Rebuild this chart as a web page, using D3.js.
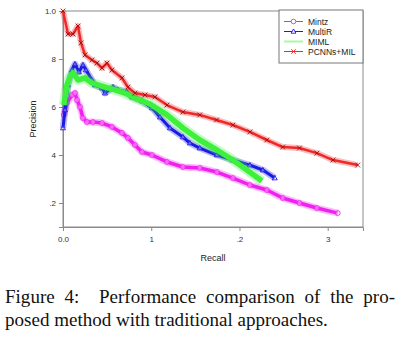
<!DOCTYPE html>
<html>
<head>
<meta charset="utf-8">
<script src="https://cdn.jsdelivr.net/npm/d3@7"></script>
<style>
  body { margin: 0; background: #fff; }
  svg { display: block; }
</style>
</head>
<body>
<svg id="the-svg" width="408" height="337"></svg>
<script>
// recall / precision
var seriesNames = ["Mintz", "MultiR", "MIML", "PCNNs+MIL"];
var seriesColors = ["#f020f0", "#1a1ae6", "#3cf03c", "#f02828"];

var mintzRecall = [0.001, 0.0045, 0.0102, 0.0136, 0.0159, 0.0193, 0.0226, 0.0272, 0.034, 0.0442, 0.0555, 0.0668, 0.0736, 0.0815, 0.0895, 0.1008, 0.1178, 0.1359, 0.155, 0.1744, 0.1925, 0.2118, 0.231, 0.249, 0.268, 0.2877, 0.3114];
var mintzPrecision = [0.567, 0.617, 0.65, 0.658, 0.629, 0.6, 0.554, 0.5375, 0.5375, 0.533, 0.517, 0.492, 0.471, 0.442, 0.4125, 0.4, 0.371, 0.35, 0.346, 0.329, 0.304, 0.275, 0.254, 0.221, 0.2, 0.179, 0.158];

var multirRecall = [0, 0.0023, 0.0057, 0.0102, 0.0136, 0.018, 0.0226, 0.026, 0.0328, 0.0362, 0.0442, 0.0476, 0.0566, 0.0623, 0.0725, 0.0781, 0.0895, 0.1008, 0.1099, 0.1212, 0.1359, 0.1438, 0.155, 0.1744, 0.1925, 0.2118, 0.2265, 0.24];
var multirPrecision = [0.5125, 0.5875, 0.692, 0.754, 0.779, 0.746, 0.775, 0.754, 0.7125, 0.692, 0.679, 0.658, 0.683, 0.671, 0.6625, 0.642, 0.625, 0.596, 0.558, 0.5125, 0.475, 0.45, 0.429, 0.4, 0.379, 0.358, 0.3375, 0.304];

var mimlRecall = [0.001, 0.0045, 0.0079, 0.0113, 0.017, 0.025, 0.0328, 0.0476, 0.0589, 0.0702, 0.0815, 0.0985, 0.1178, 0.1359, 0.155, 0.1744, 0.1925, 0.2084, 0.2254];
var mimlPrecision = [0.608, 0.692, 0.725, 0.742, 0.7125, 0.721, 0.7, 0.683, 0.671, 0.658, 0.6375, 0.6125, 0.567, 0.5125, 0.4625, 0.421, 0.379, 0.3375, 0.292];

var pcnnRecall = [0, 0.0057, 0.0113, 0.017, 0.0204, 0.025, 0.0328, 0.0385, 0.0442, 0.0498, 0.0555, 0.0668, 0.0736, 0.0815, 0.0929, 0.1042, 0.1178, 0.1359, 0.155, 0.174, 0.1925, 0.2118, 0.231, 0.249, 0.268, 0.2877, 0.306, 0.334];
var pcnnPrecision = [1.0, 0.904, 0.904, 0.9375, 0.867, 0.817, 0.796, 0.783, 0.7625, 0.783, 0.754, 0.721, 0.683, 0.658, 0.65, 0.642, 0.608, 0.579, 0.567, 0.546, 0.525, 0.496, 0.4625, 0.433, 0.429, 0.408, 0.379, 0.358];

var xTicks = [0, 0.1, 0.2, 0.3];
var xTickLabels = ["0.0", "1", ".2", "3"];
var yTicks = [1.0, 0.8, 0.6, 0.4, 0.2];
var yTickLabels = ["1.0", "8", "6", "4", ".2"];

var captionLines = ["Figure 4:  Performance comparison of the pro-", "posed method with traditional approaches."];

var svg = d3.select("#the-svg");
var x = d3.scaleLinear().domain([0, 0.34]).range([63, 363]);
var y = d3.scaleLinear().domain([0.1, 1.0]).range([227, 11]);

var zip = function(rs, ps) {
    return rs.map(function(r, i) { return {r: r, p: ps[i]}; });
};
var allSeries = [
    zip(mintzRecall, mintzPrecision),
    zip(multirRecall, multirPrecision),
    zip(mimlRecall, mimlPrecision),
    zip(pcnnRecall, pcnnPrecision)
];

// marker shapes
var markerPath = function(kind, s) {
    if (kind == 0) {
        return "M" + (-s) + ",0A" + s + "," + s + " 0 1,1 " + s + ",0A" + s + "," + s + " 0 1,1 " + (-s) + ",0Z";
    } else if (kind == 1) {
        return "M0," + (-s * 1.1) + "L" + (s * 1.05) + "," + (s * 0.75) + "L" + (-s * 1.05) + "," + (s * 0.75) + "Z";
    } else if (kind == 3) {
        return "M" + (-s) + "," + (-s) + "L" + s + "," + s + "M" + (-s) + "," + s + "L" + s + "," + (-s);
    }
    return "";
};

// frame
svg.append("rect")
    .attr("x", x(0)).attr("y", y(1.0))
    .attr("width", x(0.34) - x(0)).attr("height", y(0.1) - y(1.0))
    .attr("fill", "none").attr("stroke", "#8a8a8a").attr("stroke-width", 1);

var xAxis = d3.axisBottom(x).tickValues(xTicks).tickSize(4)
    .tickFormat(function(d, i) { return xTickLabels[i]; });
var yAxis = d3.axisLeft(y).tickValues(yTicks).tickSize(4)
    .tickFormat(function(d, i) { return yTickLabels[i]; });

var gx = svg.append("g").attr("transform", "translate(0," + y(0.1) + ")").call(xAxis);
var gy = svg.append("g").attr("transform", "translate(" + x(0) + ",0)").call(yAxis);
[gx, gy].forEach(function(g) {
    g.select(".domain").attr("stroke", "#8a8a8a");
    g.selectAll(".tick line").attr("stroke", "#8a8a8a");
    g.selectAll(".tick text")
        .attr("fill", "#333")
        .style("font-family", "'Liberation Sans', Arial, sans-serif")
        .style("font-size", "8px");
});
gx.selectAll(".tick text").attr("dy", "0.71em").attr("y", 9);
gy.selectAll(".tick text").attr("x", -7);

// axis titles
svg.append("text")
    .attr("x", 213).attr("y", 261)
    .attr("text-anchor", "middle")
    .attr("fill", "#222")
    .style("font-family", "'Liberation Sans', Arial, sans-serif")
    .style("font-size", "9px")
    .text("Recall");
svg.append("text")
    .attr("transform", "translate(36,119) rotate(-90)")
    .attr("text-anchor", "middle")
    .attr("fill", "#222")
    .style("font-family", "'Liberation Sans', Arial, sans-serif")
    .style("font-size", "9px")
    .text("Precision");

var line = d3.line()
    .x(function(d) { return x(d.r); })
    .y(function(d) { return y(d.p); });

var plot = svg.append("g");
var haloWidth = [7, 6.5, 10, 6];
var haloOpacity = [0.3, 0.3, 0.3, 0.3];
var lineWidth = [3.5, 3, 5.5, 2.5];

allSeries.forEach(function(data, k) {
    var g = plot.append("g").attr("class", "series");
    g.append("path")
        .attr("d", line(data))
        .attr("fill", "none")
        .attr("stroke", seriesColors[k])
        .attr("stroke-width", haloWidth[k])
        .attr("stroke-opacity", haloOpacity[k])
        .attr("stroke-linejoin", "round");
    g.append("path")
        .attr("d", line(data))
        .attr("fill", "none")
        .attr("stroke", seriesColors[k])
        .attr("stroke-width", lineWidth[k])
        .attr("stroke-linejoin", "round");
    if (k != 2) {
        g.selectAll(".mark").data(data)
            .enter().append("path")
                .attr("class", "mark")
                .attr("transform", function(d) {
                    return "translate(" + x(d.r) + "," + y(d.p) + ")";
                })
                .attr("d", markerPath(k, 2.4))
                .attr("fill", k == 3 ? "none" : "#fff")
                .attr("fill-opacity", 0.35)
                .attr("stroke", k == 3 ? "#a01010" : seriesColors[k])
                .attr("stroke-width", 0.9);
    }
});

// legend
var legend = svg.append("g");
legend.append("rect")
    .attr("x", 279).attr("y", 10)
    .attr("width", 84).attr("height", 53)
    .attr("fill", "#fff")
    .attr("stroke", "#777").attr("stroke-width", 1);
var legendRows = legend.selectAll(".row").data(seriesNames)
    .enter().append("g")
        .attr("class", "row")
        .attr("transform", function(d, i) {
            return "translate(0," + (21.5 + i * 10) + ")";
        });
legendRows.append("line")
    .attr("x1", 284).attr("x2", 303)
    .attr("stroke", function(d, i) { return seriesColors[i]; })
    .attr("stroke-opacity", function(d, i) { return i == 2 ? 0.45 : 1; })
    .attr("stroke-width", function(d, i) { return i == 2 ? 2 : 1; });
legendRows.append("path")
    .attr("transform", "translate(293.5,0)")
    .attr("d", function(d, i) { return markerPath(i, 2.3); })
    .attr("fill", "#fff")
    .attr("stroke", function(d, i) { return seriesColors[i]; })
    .attr("stroke-width", 0.9);
legendRows.append("text")
    .attr("x", 308).attr("y", 3)
    .attr("fill", "#222")
    .style("font-family", "'Liberation Sans', Arial, sans-serif")
    .style("font-size", "8.5px")
    .text(function(d) { return d; });

// caption: the scan is stretched sideways, so scale the text to the widths seen
var capGroup = svg.append("g");
var caption = capGroup.selectAll(".caption").data(captionLines)
    .enter().append("text")
        .attr("class", "caption")
        .attr("x", 0)
        .attr("y", function(d, i) { return 303 + i * 23; })
        .attr("fill", "#111")
        .style("font-family", "'Liberation Serif', 'Times New Roman', serif")
        .style("font-size", "18px")
        .style("white-space", "pre")
        .text(function(d) { return d; });
var nodes = caption.nodes();
var capScale = 323 / nodes[1].getComputedTextLength();
capGroup.attr("transform", "translate(5,0) scale(" + capScale + ",1)");
// justify the first line like the paper does
var w = nodes[0].getComputedTextLength();
var gaps = captionLines[0].split(" ").length - 1;
d3.select(nodes[0]).style("word-spacing", ((390 / capScale - w) / gaps) + "px");
</script>
</body>
</html>
